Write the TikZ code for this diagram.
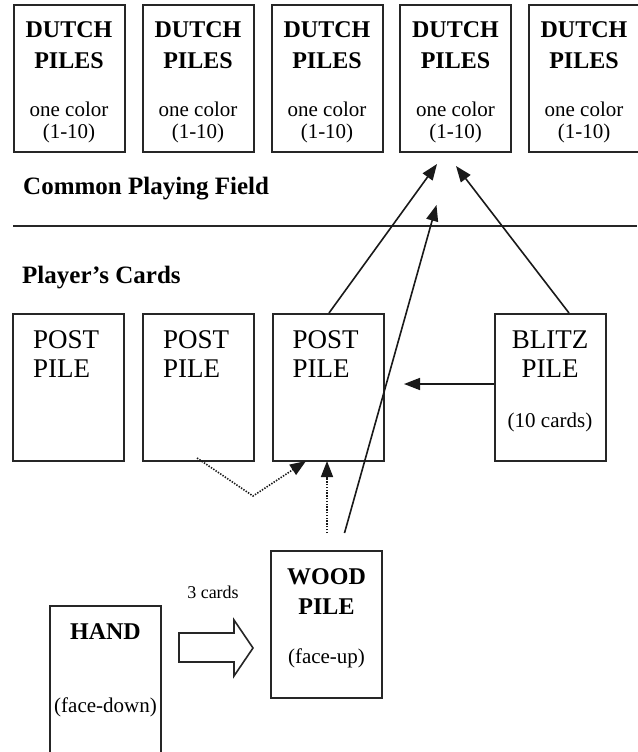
\documentclass[tikz,border=0pt]{standalone}
\usepackage{fontspec}
\setmainfont{Liberation Serif}
\usetikzlibrary{arrows.meta}
\begin{document}
\begin{tikzpicture}[x=1pt,y=-1pt,
  card/.style={draw=black!85,line width=2pt,rectangle,minimum width=111pt,minimum height=147pt,inner sep=0pt},
  bttl/.style={font=\bfseries\fontsize{24}{28}\selectfont,inner sep=0pt,anchor=base},
  rttl/.style={font=\fontsize{27}{28}\selectfont,inner sep=0pt,anchor=base west},
  sub/.style={font=\fontsize{21}{24}\selectfont,inner sep=0pt,anchor=base},
  head/.style={font=\bfseries\fontsize{25}{28}\selectfont,inner sep=0pt,anchor=base west},
  arr/.style={draw=black!90,line width=1.6pt,-{Triangle[length=16pt,width=12pt]}},
  dotarr/.style={draw=black!90,line width=1.6pt,dash pattern=on 1.4pt off 1.4pt,-{Triangle[length=16pt,width=12pt]}},
]
\useasboundingbox (0,0) rectangle (637,752);
\fill[white] (0,0) rectangle (637,752);

% Dutch piles
\foreach \i/\cx in {1/69,2/198,3/327,4/455.5,5/584}{
  \node[card] (d\i) at (\cx,78.5) {};
  \node[bttl] (dt\i) at (\cx,38) {DUTCH};
  \node[bttl] (dp\i) at (\cx,68) {PILES};
  \node[sub] (dc\i) at (\cx,116) {one color};
  \node[sub] (dn\i) at (\cx,138) {(1-10)};
}

\node[head] (cpf) at (23,194) {Common Playing Field};
\draw[draw=black!85,line width=2pt] (13,226) -- (637,226);
\node[head] (pc) at (22,283) {Player’s Cards};

% Post piles
\foreach \i/\cx in {1/68.5,2/198.5,3/328}{
  \node[card] (p\i) at (\cx,387.5) {};
  \node[rttl] (pt\i) at (\cx-35.5,348) {POST};
  \node[rttl] (pp\i) at (\cx-35.5,377) {PILE};
}

% Blitz pile
\node[card] (blitz) at (550,387.5) {};
\node[font=\fontsize{27}{28}\selectfont,inner sep=0pt,anchor=base] (bt) at (550,348) {BLITZ};
\node[font=\fontsize{27}{28}\selectfont,inner sep=0pt,anchor=base] (bp) at (550,377) {PILE};
\node[sub] (bc) at (550,427) {(10 cards)};

% Wood pile
\node[card] (wood) at (326.5,624.5) {};
\node[bttl] (wt) at (326.5,584) {WOOD};
\node[bttl] (wp) at (326.5,614) {PILE};
\node[sub] (wf) at (326.5,663) {(face-up)};

% Hand
\node[card,minimum height=170pt] (hand) at (105.5,691) {};
\node[bttl] (ht) at (105.5,639) {HAND};
\node[sub] (hf) at (105.5,712) {(face-down)};

% 3 cards block arrow
\node[font=\fontsize{18}{20}\selectfont,inner sep=0pt,anchor=base] (three) at (213,598) {3 cards};
\draw[draw=black!85,line width=1.6pt,fill=white] (179,633) -- (234,633) -- (234,620) -- (253,648) -- (234,676) -- (234,662) -- (179,662) -- cycle;

% connector end points
\coordinate (a1s) at (329,313);
\coordinate (a1e) at (437,164);
\coordinate (a2s) at (569,313);
\coordinate (a2e) at (456,166);
\coordinate (a3s) at (344.5,533);
\coordinate (a3e) at (436.5,205);
\coordinate (a4s) at (blitz.west |- 0,384);
\coordinate (a4e) at (404,384);
\coordinate (b1s) at (197,458);
\coordinate (b1m) at (253,496);
\coordinate (b1e) at (306,461);
\coordinate (b2s) at (327,533);
\coordinate (b2e) at (327,461);

\draw[arr] (a1s) -- (a1e);
\draw[arr] (a2s) -- (a2e);
\draw[arr] (a3s) -- (a3e);
\draw[arr] (a4s) -- (a4e);
\draw[dotarr] (b1s) -- (b1m) -- (b1e);
\draw[dotarr] (b2s) -- (b2e);
\end{tikzpicture}
\end{document}
